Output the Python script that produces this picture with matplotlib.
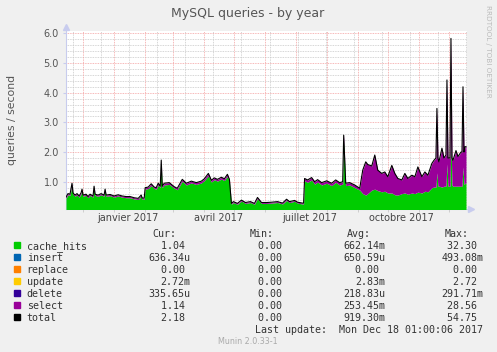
import numpy as np
import matplotlib
matplotlib.use("Agg")
import matplotlib.pyplot as plt
import matplotlib.dates as mdates
from matplotlib.patches import Rectangle

# days after 2016-11-14
start = np.datetime64('2016-11-14')
days = [0, 2, 4, 6, 7, 9, 11, 13, 15, 16, 17, 20, 22, 24, 27, 28, 29, 32, 35, 38,
        39, 40, 44, 48, 52, 56, 60, 64, 68, 72, 75, 76, 78, 79, 82, 85, 88, 90, 92, 94,
        95, 96, 98, 103, 108, 111, 116, 120, 125, 130, 135, 138, 142, 145, 148, 151, 155, 158, 161, 163,
        165, 167, 171, 175, 179, 184, 188, 191, 195, 200, 205, 211, 216, 220, 223, 228, 231, 236, 237, 238,
        241, 245, 248, 251, 255, 260, 265, 269, 273, 276, 277, 279, 283, 288, 293, 296, 299, 301, 305, 308,
        311, 315, 318, 321, 325, 328, 331, 335, 338, 341, 345, 348, 351, 355, 358, 361, 365, 367, 369, 370,
        371, 372, 375, 377, 379, 380, 381, 383, 384, 385, 386, 389, 391, 394, 395, 396, 397, 398, 399]

cache_hits = [0.44, 0.56, 0.54, 0.88, 0.58, 0.51, 0.56, 0.48, 0.58, 0.70, 0.51, 0.54, 0.46, 0.54, 0.48, 0.80, 0.54, 0.51, 0.56, 0.51,
              0.70, 0.51, 0.53, 0.48, 0.52, 0.48, 0.46, 0.46, 0.42, 0.40, 0.51, 0.41, 0.41, 0.75, 0.77, 0.87, 0.77, 0.75, 0.89, 0.80,
              1.62, 0.80, 0.89, 0.91, 0.78, 0.73, 1.02, 0.89, 0.96, 0.91, 0.96, 1.04, 1.20, 0.99, 1.07, 1.02, 1.09, 1.04, 1.18, 1.02,
              0.24, 0.30, 0.24, 0.35, 0.27, 0.30, 0.24, 0.43, 0.27, 0.27, 0.28, 0.30, 0.25, 0.37, 0.30, 0.34, 0.28, 0.25, 0.25, 1.03,
              0.98, 1.06, 0.92, 0.99, 0.89, 0.95, 0.87, 0.98, 0.89, 0.92, 2.40, 0.87, 0.89, 0.80, 0.72, 0.60, 0.55, 0.60, 0.72, 0.75,
              0.70, 0.66, 0.68, 0.62, 0.62, 0.56, 0.55, 0.60, 0.62, 0.58, 0.62, 0.60, 0.65, 0.62, 0.68, 0.66, 0.80, 0.82, 0.82, 1.30,
              0.85, 0.85, 0.82, 0.85, 0.85, 1.60, 0.85, 0.85, 2.40, 0.88, 0.85, 0.85, 0.85, 0.85, 0.85, 1.50, 0.90, 0.95, 0.95]

select_q = [0.04, 0.04, 0.04, 0.07, 0.04, 0.04, 0.04, 0.04, 0.04, 0.05, 0.04, 0.04, 0.04, 0.04, 0.04, 0.05, 0.04, 0.04, 0.04, 0.04,
            0.05, 0.04, 0.04, 0.04, 0.04, 0.04, 0.04, 0.04, 0.04, 0.04, 0.04, 0.04, 0.04, 0.05, 0.05, 0.06, 0.05, 0.05, 0.06, 0.05,
            0.11, 0.05, 0.06, 0.06, 0.05, 0.05, 0.06, 0.06, 0.06, 0.06, 0.06, 0.06, 0.08, 0.06, 0.06, 0.06, 0.06, 0.06, 0.07, 0.06,
            0.03, 0.03, 0.03, 0.03, 0.03, 0.03, 0.03, 0.04, 0.03, 0.03, 0.03, 0.03, 0.03, 0.04, 0.03, 0.03, 0.03, 0.03, 0.03, 0.08,
            0.08, 0.08, 0.08, 0.08, 0.08, 0.08, 0.08, 0.08, 0.08, 0.08, 0.17, 0.08, 0.08, 0.09, 0.06, 0.79, 1.12, 0.98, 0.81, 1.15,
            0.69, 0.62, 0.65, 0.55, 0.93, 0.72, 0.56, 0.46, 0.66, 0.53, 0.60, 0.57, 0.85, 0.55, 0.65, 0.56, 0.82, 0.90, 0.98, 2.17,
            0.95, 0.82, 1.31, 0.95, 1.05, 2.83, 0.95, 0.95, 3.43, 0.92, 0.87, 1.20, 1.00, 1.15, 1.15, 2.70, 1.10, 1.23, 1.23]

months_lbl = ['janvier 2017', 'avril 2017', 'juillet 2017', 'octobre 2017']
lbl_dates = ['2017-01-15', '2017-04-15', '2017-07-15', '2017-10-15']

names = ['cache_hits', 'insert', 'replace', 'update', 'delete', 'select', 'total']
colors = ['#00CC00', '#0066B3', '#FF8000', '#FFCC00', '#330099', '#990099', '#000000']
cur = ['1.04 ', '636.34u', '0.00 ', '2.72m', '335.65u', '1.14 ', '2.18 ']
mins = ['0.00 '] * 7
avg = ['662.14m', '650.59u', '0.00 ', '2.83m', '218.83u', '253.45m', '919.30m']
maxs = ['32.30 ', '493.08m', '0.00 ', '2.72 ', '291.71m', '28.56 ', '54.75 ']

W, H = 497, 352
fig = plt.figure(figsize=(W / 100, H / 100), dpi=100, facecolor='#F0F0F0')

def px(x, y):
    return x / W, 1 - y / H

left, right, top, bot = 66, 467, 31, 208.5
ax = fig.add_axes([left / W, 1 - bot / H, (right - left) / W, (bot - top) / H])
ax.set_facecolor('#FFFFFF')

x = mdates.date2num(start + np.array(days).astype('timedelta64[D]'))
green = np.array(cache_hits)
purple = np.array(select_q)
total = green + purple

x0 = mdates.date2num(start)
x1 = mdates.date2num(start + np.timedelta64(400, 'D'))
ax.set_xlim(x0, x1)
ax.set_ylim(0.098, 6.08)

# grid
dot = (0, (1, 1))
for v in np.arange(0.2, 6.01, 0.2):
    if abs(v - round(v)) > 0.01:
        ax.axhline(v, color='#C8C8C8', lw=0.6, ls=dot, zorder=1)
minor_days = np.arange(np.datetime64('2016-11-21'), np.datetime64('2017-12-19'), 28)
for d in minor_days:
    ax.axvline(mdates.date2num(d), color='#C8C8C8', lw=0.6, ls=dot, zorder=1)
for v in range(1, 7):
    ax.axhline(v, color='#F4A0A0', lw=0.6, ls=dot, zorder=2)
month_starts = np.arange(np.datetime64('2016-12'), np.datetime64('2018-01')).astype('datetime64[D]')
for d in month_starts:
    ax.axvline(mdates.date2num(d), color='#F4A0A0', lw=0.6, ls=dot, zorder=2)

ax.fill_between(x, 0, green, color=colors[0], lw=0, zorder=3)
ax.fill_between(x, green, total, color=colors[5], lw=0, zorder=3)
ax.plot(x, total, color='black', lw=0.8, zorder=4)

for s in ['top', 'right']:
    ax.spines[s].set_visible(False)
for s in ['left', 'bottom']:
    ax.spines[s].set_color('#C8CCEE')
    ax.spines[s].set_linewidth(0.8)
ax.plot([0], [1.025], marker='^', ms=4, color='#C8CCEE', transform=ax.transAxes, clip_on=False)
ax.plot([1.01], [0], marker='>', ms=4, color='#C8CCEE', transform=ax.transAxes, clip_on=False)

ax.set_yticks(range(1, 7), labels=['%.1f' % v for v in range(1, 7)])
ax.tick_params(axis='y', length=2, color='#C8CCEE', labelsize=7, labelcolor='#555555', pad=3)
ax.set_xticks(mdates.date2num(np.array(lbl_dates, dtype='datetime64[D]')), labels=months_lbl)
ax.tick_params(axis='x', length=0, labelsize=7, labelcolor='#444444', pad=3)
ax.set_xticks(mdates.date2num(month_starts), minor=True)
ax.tick_params(axis='x', which='minor', length=2, color='#C8C8C8')

fig.text(*px(248, 16.7), 'MySQL queries - by year', ha='center', va='baseline',
         fontsize=9, color='#555555')
fig.text(*px(12, 120), 'queries / second', rotation=90, ha='center', va='center',
         fontsize=7.8, color='#555555')
fig.text(*px(488, 5), 'RRDTOOL / TOBI OETIKER', rotation=270, ha='center', va='top',
         fontsize=5.2, color='#BBBBBB')

mono = dict(family='DejaVu Sans Mono', fontsize=7.2, color='#333333', va='baseline')
col_ends = [190.7, 288, 385.3, 483.3]
for hdr, xe in zip(['Cur:', 'Min:', 'Avg:', 'Max:'], col_ends):
    fig.text(*px(xe - 14.5, 236.7), hdr, ha='right', **mono)
for i, n in enumerate(names):
    yb = 248.7 + 12 * i
    fig.patches.append(Rectangle(px(14, yb - 0.8), 6 / W, 6 / H, color=colors[i],
                                 transform=fig.transFigure, figure=fig))
    fig.text(*px(26.7, yb), n, ha='left', **mono)
    for vals, xe in zip([cur, mins, avg, maxs], col_ends):
        fig.text(*px(xe, yb), vals[i], ha='right', **mono)
fig.text(*px(483.3, 332.7), 'Last update:  Mon Dec 18 01:00:06 2017', ha='right', **mono)
fig.text(*px(248, 344.5), 'Munin 2.0.33-1', ha='center', va='baseline', fontsize=5.8,
         color='#AAAAAA')

fig.savefig('out.png', dpi=100, facecolor=fig.get_facecolor())
